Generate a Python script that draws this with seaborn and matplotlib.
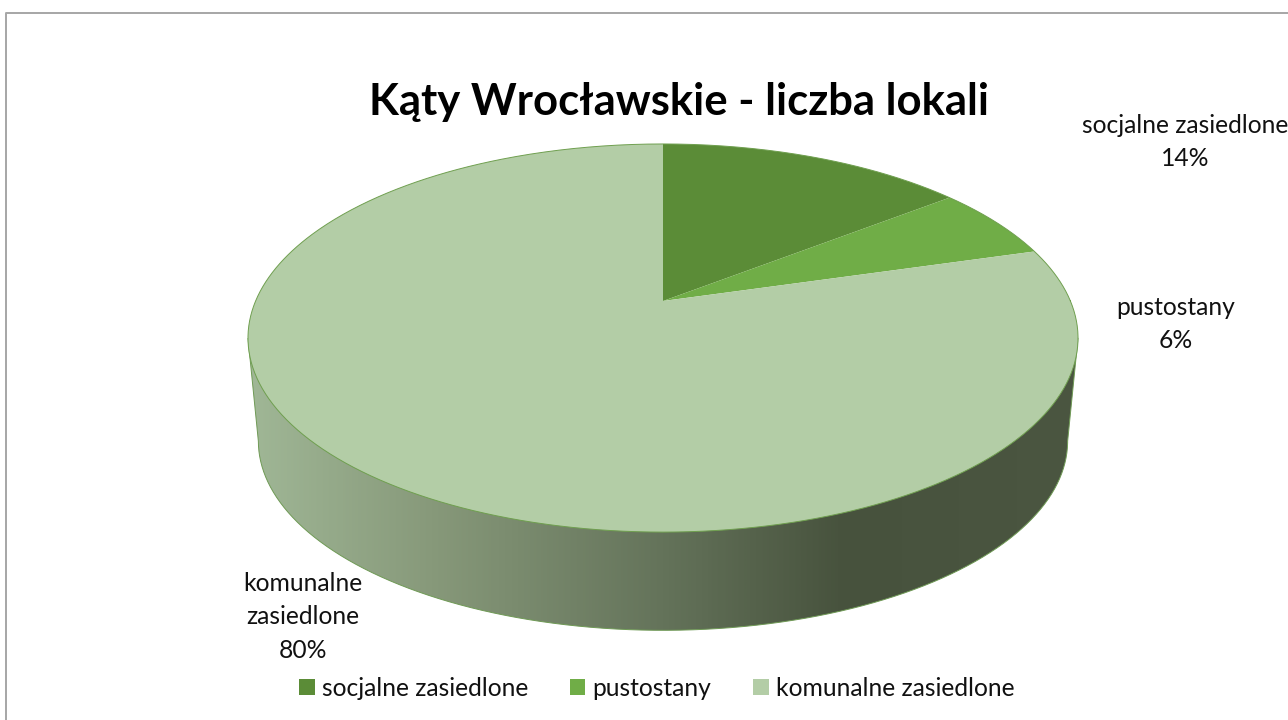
import numpy as np
import matplotlib
matplotlib.use('Agg')
import matplotlib.pyplot as plt
import seaborn as sns
from matplotlib.colors import LinearSegmentedColormap
from matplotlib.patches import PathPatch
from matplotlib.path import Path
from matplotlib.transforms import Transform

title = 'Kąty Wrocławskie - liczba lokali'
categories = ['socjalne zasiedlone', 'pustostany', 'komunalne zasiedlone']
values = [14.4, 6.1, 79.5]
label_names = ['socjalne zasiedlone', 'pustostany', 'komunalne\nzasiedlone']
colors = ['#5b8c37', '#70ad47', '#b3cda6']

sns.set_theme(style='white')
plt.rcParams['font.family'] = ['Lato', 'DejaVu Sans']


# disc seen in perspective: unit circle -> pixels of the figure
class Tilt(Transform):
    input_dims = 2
    output_dims = 2

    def __init__(self, scale=1.0, drop=0.0):
        super().__init__()
        self.scale = scale
        self.drop = drop

    def transform_non_affine(self, xy):
        xy = np.asarray(xy, dtype=float)
        w = 1 + 0.1908 * xy[:, 1]
        px = 663 + self.scale * 407.4 * xy[:, 0] / w
        py = 301 + self.drop - self.scale * 187 * xy[:, 1] / w
        return np.column_stack([px, py])


fig = plt.figure(figsize=(12.88, 7.2), dpi=100)
ax = fig.add_axes([0, 0, 1, 1])
wedges, _ = ax.pie(values, colors=colors, startangle=90, counterclock=False, radius=1)
ax.set_aspect('auto')
ax.set_xlim(0, 1288)
ax.set_ylim(720, 0)
ax.axis('off')

top = Tilt() + ax.transData
for w in wedges:
    w.set_transform(top)
    w.set_linewidth(0)
    w.set_zorder(3)

# side wall, gradient clipped to the outline between the two discs
t = np.linspace(0, 2 * np.pi, 721)
circle = np.column_stack([np.cos(t), np.sin(t)])
rim = Tilt().transform(circle)
low = Tilt(0.975, 104).transform(circle)
left_top = rim[np.argmin(rim[:, 0])]
right_top = rim[np.argmax(rim[:, 0])]
i0 = np.argmin(low[:, 0])
i1 = np.argmax(np.where(t > np.pi, low[:, 0], -1))
outline = np.vstack([left_top, low[i0:i1 + 1], right_top, left_top])

wall_cmap = LinearSegmentedColormap.from_list(
    'wall', [(0, '#a0b796'), (0.22, '#87997a'), (0.5, '#64735a'), (0.72, '#47523d'), (1, '#4b5641')])
grad = ax.imshow(np.linspace(0, 1, 400)[None, :], cmap=wall_cmap, aspect='auto',
                 extent=(248, 1078, 640, 330), zorder=1)
wall = PathPatch(Path(outline), facecolor='none', edgecolor='#6f9a55', lw=0.7, zorder=2)
ax.add_patch(wall)
grad.set_clip_path(wall)
ax.set_xlim(0, 1288)
ax.set_ylim(720, 0)

ax.plot(rim[:, 0], rim[:, 1], color='#6f9f4f', lw=0.7, zorder=4)

# chart area frame
ax.plot([6, 6, 1288], [720, 12.5, 12.5], color='#a6a6a6', lw=1.4, zorder=0)

ax.text(679, 102, title, ha='center', va='center', fontsize=31.4, fontweight='bold', color='black')

label_pos = [(1185, 142), (1176, 324), (303, 617)]
for name, v, (lx, ly) in zip(label_names, values, label_pos):
    ax.text(lx, ly, f'{name}\n{v:.0f}%', ha='center', va='center', fontsize=17.7,
            linespacing=1.55, color='#111111')

leg = ax.legend(wedges, categories, ncol=3, frameon=False, fontsize=17.7, loc='center',
                bbox_to_anchor=(657 / 1288, 1 - 688 / 720), handlelength=0.62, handleheight=0.62,
                handletextpad=0.3, columnspacing=1.7, labelcolor='#111111')

fig.savefig('out.png', dpi=100)
